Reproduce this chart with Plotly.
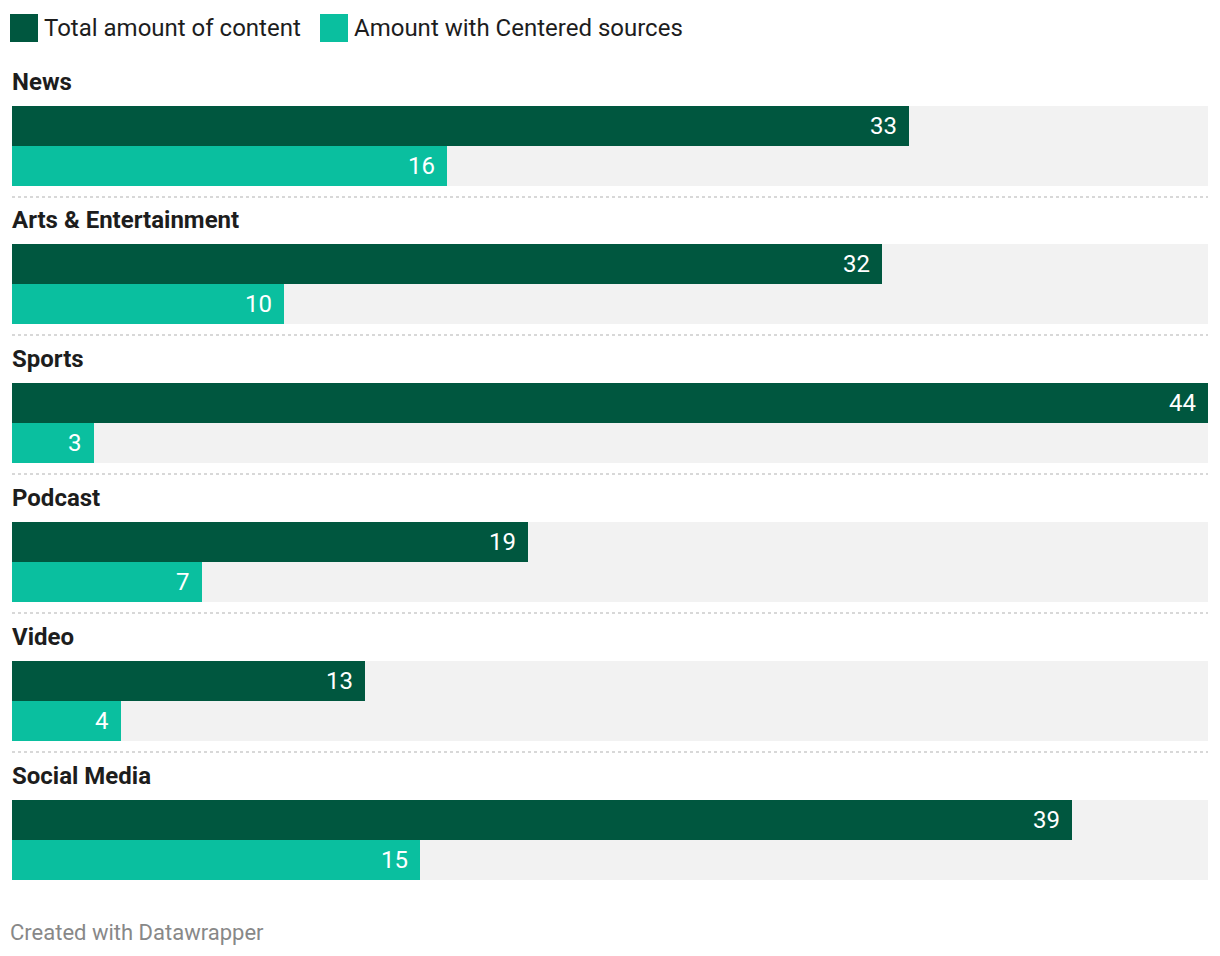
import math
import plotly.graph_objects as go

categories = ["News", "Arts & Entertainment", "Sports", "Podcast", "Video", "Social Media"]
total_content = [33, 32, 44, 19, 13, 39]
centered_sources = [16, 10, 3, 7, 4, 15]
series_names = ["Total amount of content", "Amount with Centered sources"]

DARK = "#00573f"
TEAL = "#0abf9f"
BG = "#f2f2f2"
TEXT = "#1d1d1d"
FONT = "Roboto"

OFF = 8  # page body margin
W, H = 1220 - 2 * OFF, 956 - 2 * OFF
LEFT, RIGHT = 12 - OFF, 1208 - OFF
XMAX = max(total_content)
FIRST_TOP = 106 - OFF
STEP = 138.8
BAR_H = 40

tops = [FIRST_TOP + math.floor(i * STEP) for i in range(len(categories))]
y_dark = [t + BAR_H / 2 for t in tops]
y_teal = [t + BAR_H * 1.5 for t in tops]
y_bg = [t + BAR_H for t in tops]

fig = go.Figure()
fig.add_trace(go.Bar(y=y_bg, x=[XMAX] * len(categories), orientation="h", width=BAR_H * 2,
                     marker=dict(color=BG, line=dict(width=0)), hoverinfo="skip", showlegend=False))
fig.add_trace(go.Bar(y=y_dark, x=total_content, orientation="h", width=BAR_H, name=series_names[0],
                     marker=dict(color=DARK, line=dict(width=0)), hoverinfo="skip", showlegend=False))
fig.add_trace(go.Bar(y=y_teal, x=centered_sources, orientation="h", width=BAR_H, name=series_names[1],
                     marker=dict(color=TEAL, line=dict(width=0)), hoverinfo="skip", showlegend=False))

annotations = []
shapes = []
for i, cat in enumerate(categories):
    annotations.append(dict(x=0, y=tops[i] - 24, xref="x", yref="y", text=f"<b>{cat}</b>",
                            showarrow=False, xanchor="left", yanchor="middle", xshift=-2,
                            font=dict(family=FONT, size=24, color=TEXT)))
    annotations.append(dict(x=total_content[i], y=y_dark[i], xref="x", yref="y", text=str(total_content[i]),
                            showarrow=False, xanchor="right", yanchor="middle", xshift=-10,
                            font=dict(family=FONT, size=24, color="white")))
    annotations.append(dict(x=centered_sources[i], y=y_teal[i], xref="x", yref="y", text=str(centered_sources[i]),
                            showarrow=False, xanchor="right", yanchor="middle", xshift=-10,
                            font=dict(family=FONT, size=24, color="white")))
    if i < len(categories) - 1:
        ysep = tops[i] + BAR_H * 2 + 11
        shapes.append(dict(type="line", xref="x", yref="y", x0=0, x1=XMAX, y0=ysep, y1=ysep,
                           line=dict(color="#cccccc", width=1.5, dash="dot")))

# legend
legend_x = [10 - OFF, 320 - OFF]
for name, color, lx in zip(series_names, [DARK, TEAL], legend_x):
    shapes.append(dict(type="rect", xref="paper", yref="y", x0=lx / W, x1=(lx + 28) / W,
                       y0=14 - OFF, y1=42 - OFF, fillcolor=color, line=dict(width=0)))
    annotations.append(dict(x=(lx + 34) / W, y=28 - OFF, xref="paper", yref="y", text=name, showarrow=False,
                            xanchor="left", yanchor="middle", xshift=-2,
                            font=dict(family=FONT, size=24, color=TEXT)))

annotations.append(dict(x=(10 - OFF) / W, y=932 - OFF, xref="paper", yref="y", text="Created with Datawrapper",
                        showarrow=False, xanchor="left", yanchor="middle", xshift=-2,
                        font=dict(family=FONT, size=22, color="#888888")))

fig.update_layout(
    width=W, height=H,
    margin=dict(l=0, r=0, t=0, b=0),
    paper_bgcolor="white", plot_bgcolor="white",
    barmode="overlay", bargap=0,
    xaxis=dict(domain=[LEFT / W, RIGHT / W], range=[0, XMAX], visible=False, fixedrange=True),
    yaxis=dict(range=[H, 0], visible=False, fixedrange=True),
    annotations=annotations, shapes=shapes,
    showlegend=False,
)

fig.write_html("out.html")
